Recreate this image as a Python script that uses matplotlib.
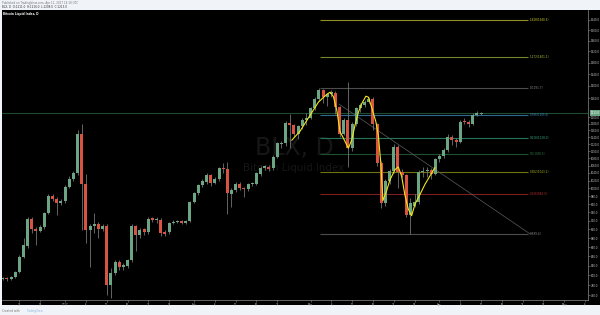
import numpy as np
import pandas as pd
import matplotlib
matplotlib.use("Agg")
import matplotlib.pyplot as plt
import matplotlib.transforms as mtransforms
from matplotlib.ticker import NullLocator

# daily candles of BLX, first candle 2016-12-17
start = pd.Timestamp("2016-12-17")
opens = [793, 795, 793, 797, 807, 839, 863, 925, 900, 897, 906, 939, 980, 974, 963, 968, 1004, 1023, 1039, 1149,
         1011, 898, 907, 913, 900, 907, 780, 805, 828, 817, 820, 831, 907, 887, 900, 894, 926, 922, 923, 893,
         894, 915, 918, 920, 915, 920, 965, 987, 1008, 1017, 1034, 1014, 1024, 1052, 1050, 985, 995, 1010, 1000, 997,
         1011, 1012, 1038, 1054, 1057, 1053, 1084, 1120, 1122, 1181, 1176, 1150, 1172, 1190, 1198, 1228, 1258, 1285, 1265, 1272,
         1278, 1230, 1150, 1192, 1110, 1178, 1228, 1238, 1248, 1256, 1178, 1068, 962, 1018, 1045, 1112, 1042, 1034, 934, 955,
         965, 1042, 1044, 1048, 1038, 1077, 1085, 1102, 1140, 1132, 1127, 1188, 1184, 1180, 1208, 1211]
highs = [797, 797, 799, 809, 842, 880, 930, 928, 905, 910, 942, 985, 986, 978, 973, 1008, 1032, 1045, 1161, 1179,
         1037, 912, 939, 918, 912, 912, 815, 832, 832, 825, 835, 912, 910, 903, 904, 928, 930, 930, 926, 898,
         918, 922, 922, 922, 923, 968, 990, 1012, 1024, 1040, 1038, 1030, 1056, 1067, 1070, 1000, 1015, 1015, 1004, 1014,
         1016, 1042, 1060, 1062, 1062, 1089, 1127, 1130, 1187, 1210, 1180, 1175, 1196, 1212, 1232, 1265, 1291.7, 1288, 1278, 1285,
         1283, 1235, 1198, 1312, 1185, 1232, 1245, 1255, 1262, 1265, 1182, 1072, 1025, 1050, 1120, 1118, 1050, 1038, 975, 985,
         1048, 1055, 1055, 1052, 1082, 1092, 1108, 1148, 1145, 1138, 1192, 1196, 1192, 1212, 1218, 1216]
lows = [790, 789, 791, 795, 805, 836, 858, 891, 865, 893, 902, 935, 968, 933, 958, 964, 1000, 1018, 1035, 898,
        869, 818, 891, 880, 896, 760, 755, 800, 812, 812, 815, 828, 852, 880, 888, 890, 918, 915, 885, 885,
        890, 912, 914, 912, 912, 918, 962, 982, 1002, 1012, 1005, 1010, 1020, 1040, 935, 952, 990, 995, 978, 993,
        1007, 1008, 1033, 1048, 1046, 1048, 1080, 1110, 1115, 1110, 1140, 1135, 1165, 1175, 1195, 1222, 1250, 1245, 1235, 1262,
        1210, 1140, 1145, 1055, 1100, 1172, 1215, 1230, 1243, 1160, 1060, 950, 955, 1012, 1040, 1000, 1028, 928, 889.4, 952,
        960, 1030, 1030, 1025, 1034, 1070, 1080, 1098, 1118, 1112, 1124, 1178, 1170, 1176, 1204, 1208]
closes = [795, 793, 797, 807, 839, 864, 925, 900, 897, 906, 939, 980, 974, 963, 969, 1004, 1025, 1040, 1149, 1011,
          898, 907, 912, 900, 907, 780, 805, 828, 817, 822, 831, 907, 887, 898, 894, 925, 922, 925, 892, 890,
          915, 918, 919, 915, 920, 965, 987, 1008, 1019, 1034, 1014, 1025, 1052, 1050, 987, 995, 1010, 1000, 997, 1011,
          1013, 1039, 1054, 1058, 1051, 1084, 1122, 1124, 1181, 1176, 1150, 1172, 1192, 1198, 1228, 1258, 1285, 1265, 1272, 1280,
          1230, 1150, 1192, 1110, 1178, 1228, 1238, 1248, 1256, 1178, 1068, 962, 1018, 1045, 1112, 1042, 1034, 934, 962, 965,
          1042, 1046, 1048, 1038, 1077, 1085, 1102, 1140, 1132, 1127, 1186, 1184, 1179, 1208, 1212, 1213]

# hand drawn yellow path (candle index, price)
path_x = [69.5, 71.5, 73.9, 75.9, 77.9, 78.7, 79.5, 80.3, 81.1, 81.9, 83.1, 83.9, 84.7, 85.5, 86.3, 87.3, 87.9,
          88.7, 89.7, 90.3, 90.9, 91.4, 92.3, 93.1, 94.3, 95.1, 95.9, 96.7, 97.5, 98.3, 99.1, 100.3, 101.5, 102.7, 103.9]
path_y = [1131, 1158, 1206, 1247, 1272, 1279, 1265, 1222, 1156, 1137, 1108, 1132, 1176, 1215, 1242, 1266, 1263,
          1230, 1186, 1146, 1065, 969, 994, 1022, 1049, 1056, 1031, 982, 948, 932, 960, 984, 1010, 1032, 1054]

# trend line
trend_x = [80.8, 126.8]
trend_y = [1241, 889.4]

# fib retracement
fib_low = 889.4
fib_high = 1291.7
fib_ratios = [1.618, 1.272, 1, 0.786, 0.618, 0.5, 0.382, 0.236, 0]
fib_colors = ["#8f8f24", "#6f8a2c", "#4d4d4d", "#2c6a92", "#24785a", "#1f5030", "#6e7414", "#7e1e1e", "#4d4d4d"]
fib_text = ["#d6d630", "#a6c040", "#8a8a8a", "#3d8fc4", "#35a67c", "#2d7a45", "#a8b020", "#c03030", "#8a8a8a"]
fib_x0, fib_x1 = 76.3, 126.2

tick_dates = ["2016-12-21", "2016-12-26", "2017-01-01", "2017-01-06", "2017-01-11", "2017-01-16", "2017-01-21",
              "2017-01-26", "2017-02-01", "2017-02-06", "2017-02-11", "2017-02-16", "2017-02-21", "2017-03-01",
              "2017-03-06", "2017-03-11", "2017-03-16", "2017-03-21", "2017-03-26", "2017-04-01", "2017-04-06",
              "2017-04-11", "2017-04-16", "2017-04-21", "2017-04-26", "2017-05-01", "2017-05-06"]
tick_labels = ["21", "26", "2017", "6", "11", "16", "21", "26", "Feb", "6", "11", "16", "21", "Mar",
               "6", "11", "16", "21", "26", "Apr", "6", "11", "16", "21", "26", "May", "6"]
price_ticks = [760, 780, 800, 820, 840, 860, 880, 900, 920, 940, 960, 980, 1000, 1020, 1040, 1060, 1080, 1100,
               1120, 1140, 1160, 1180, 1200, 1260, 1300, 1340, 1380, 1420, 1460, 1500, 1540]

up_col = "#6ba583"
down_col = "#d75442"
wick_col = "#737375"

o = np.array(opens, dtype=float)
h = np.array(highs, dtype=float)
l = np.array(lows, dtype=float)
c = np.array(closes, dtype=float)
x = np.arange(len(c))

fig = plt.figure(figsize=(6, 3.15), dpi=100, facecolor="#f0f3f7")
fig.patches.append(plt.Rectangle((2 / 600, 10 / 315), 598 / 600, 295 / 315, transform=fig.transFigure,
                                 facecolor="black", edgecolor="none", zorder=-5))
ax = fig.add_axes([2 / 600, 15 / 315, 586 / 600, 290 / 315])
ax.set_facecolor("black")
ax.set_yscale("log")

# watermark
ax.text(0.4985, 0.525, "BLX, D", transform=ax.transAxes, fontsize=17, color="#161616", ha="center", va="center", zorder=0)
ax.text(0.4985, 0.455, "Bitcoin Liquid Index", transform=ax.transAxes, fontsize=7.4, color="#161616", ha="center",
        va="center", zorder=0)

# candles
colors = np.where(c >= o, up_col, down_col)
ax.vlines(x, l, h, color=wick_col, lw=0.6, zorder=2)
body_lo = np.minimum(o, c)
body_h = np.maximum(np.abs(c - o), 1.2)
ax.bar(x, body_h, bottom=body_lo, width=0.72, color=colors, linewidth=0, zorder=3)

# last price line
ax.axhline(c[-1], color="#1f4a2c", lw=0.8, zorder=1)

# fib levels
for r, lc, tc in zip(fib_ratios, fib_colors, fib_text):
    p = fib_low + r * (fib_high - fib_low)
    ax.hlines(p, fib_x0, fib_x1, color=lc, lw=0.8, zorder=1)
    ax.text(fib_x1 + 0.6, p, f"{r}({p:.1f})", color=tc, fontsize=2, va="center", ha="left", zorder=4)

ax.plot(trend_x, trend_y, color="#5c5c5c", lw=0.5, zorder=1)
ax.plot(path_x, path_y, color="#f2e616", lw=0.8, zorder=5)

ax.set_xlim(-0.17, 140.7)
ax.set_ylim(751, 1579)

tick_pos = [(pd.Timestamp(d) - start).days for d in tick_dates]
ax.set_xticks(tick_pos)
ax.set_xticklabels(tick_labels)
ax.yaxis.tick_right()
ax.set_yticks(price_ticks)
ax.set_yticklabels([f"{t:.1f}" for t in price_ticks])
ax.yaxis.set_minor_locator(NullLocator())
ax.tick_params(axis="both", colors="#8c8c8c", labelcolor="#c8c8c8", labelsize=1.9, length=1.2, width=0.4, pad=0.8)

for s in ["top", "left"]:
    ax.spines[s].set_visible(False)
for s in ["right", "bottom"]:
    ax.spines[s].set_color("#8c8c8c")
    ax.spines[s].set_linewidth(0.5)

# current price tag
tr = mtransforms.blended_transform_factory(ax.transAxes, ax.transData)
ax.text(1.004, c[-1], f"{c[-1]:.1f}", transform=tr, fontsize=1.9, color="white", va="center", ha="left",
        bbox=dict(boxstyle="square,pad=0.25", facecolor=up_col, edgecolor="none"), zorder=6, clip_on=False)

# header / footer
fig.text(2 / 600, 1 - 2.7 / 315, "Published on TradingView.com, Apr 11, 2017 14:10 UTC", fontsize=2, color="#777777",
         va="center")
fig.text(2 / 600, 1 - 6.7 / 315, f"BLX, D  O:{o[-1]:.1f}  H:{h[-1]:.1f}  L:{l[-1]:.1f}  C:{c[-1]:.1f}", fontsize=2,
         color="#333333", va="center")
fig.text(3 / 600, 1 - 14.3 / 315, "Bitcoin Liquid Index, D", fontsize=2, color="white", va="center",
         fontweight="bold")
fig.text(2 / 600, 1 - 310.7 / 315, "Created with", fontsize=2, color="#777777", va="center")
fig.text(27 / 600, 1 - 310.7 / 315, "TradingView", fontsize=2, color="#8ab8e0", va="center")

fig.savefig("out.png", dpi=100, facecolor=fig.get_facecolor())
